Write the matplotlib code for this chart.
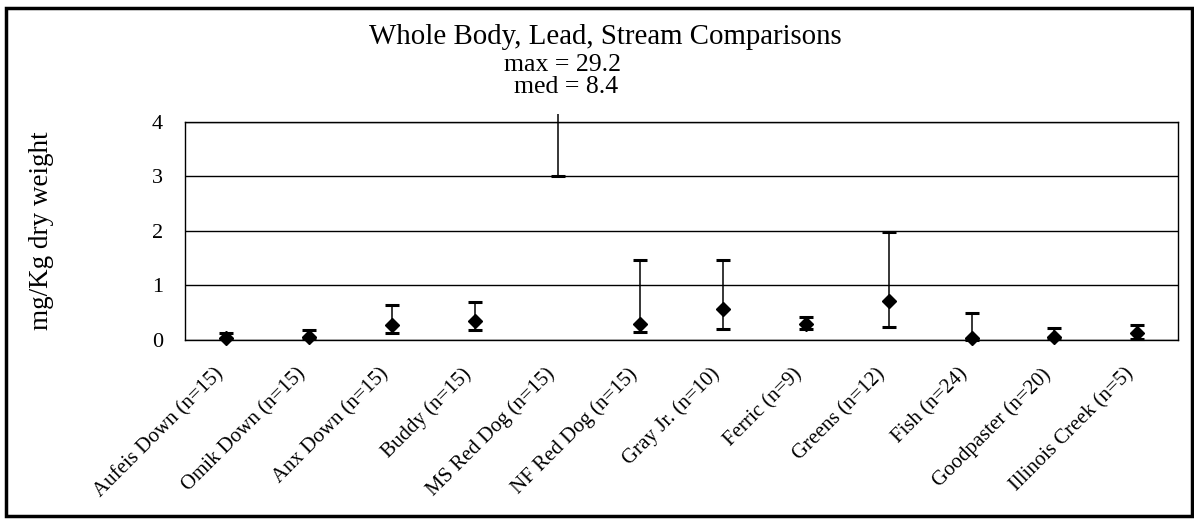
import numpy as np
import matplotlib
matplotlib.use("Agg")
import matplotlib.pyplot as plt
from matplotlib.patches import Rectangle
from matplotlib.transforms import Bbox, TransformedBbox, ScaledTranslation

plt.rcParams['font.family'] = ['Liberation Serif', 'DejaVu Serif']

# stream sites, median and min/max of whole body lead (mg/Kg dry weight)
sites = ["Aufeis Down (n=15)", "Omik Down (n=15)", "Anx Down (n=15)", "Buddy (n=15)",
         "MS Red Dog (n=15)", "NF Red Dog (n=15)", "Gray Jr. (n=10)", "Ferric (n=9)",
         "Greens (n=12)", "Fish (n=24)", "Goodpaster (n=20)", "Illinois Creek (n=5)"]
med = [0.04, 0.05, 0.28, 0.35, 8.4, 0.29, 0.56, 0.30, 0.71, 0.04, 0.05, 0.13]
low = [0.01, 0.02, 0.13, 0.18, 3.0, 0.15, 0.20, 0.20, 0.24, 0.0, 0.02, 0.02]
high = [0.13, 0.18, 0.64, 0.70, 29.2, 1.46, 1.47, 0.42, 1.98, 0.50, 0.22, 0.27]
yticks = [0, 1, 2, 3, 4]

med = np.array(med)
x = np.arange(len(sites))
yerr = [med - np.array(low), np.array(high) - med]

fig = plt.figure(figsize=(11.94, 5.19), dpi=100)
ax = fig.add_axes([0.155, 0.345, 0.832, 0.42])

eb = ax.errorbar(x, med, yerr=yerr, fmt='D', color='black', ms=7, elinewidth=1.1,
                 capsize=4.8, capthick=2.2, zorder=3)

# let the marks spill a little past the frame like the original
clip = TransformedBbox(Bbox([[0, -0.06], [1, 1.035]]), ax.transAxes)
for art in [eb[0]] + list(eb[1]) + list(eb[2]):
    art.set_clip_box(clip)

ax.set_xlim(-0.5, len(sites) - 0.5)
ax.set_ylim(0, 4)
ax.set_yticks(yticks)
ax.yaxis.grid(True, color='black', linewidth=1.0)
ax.set_axisbelow(True)
for s in ax.spines.values():
    s.set_color('black')
    s.set_linewidth(1.0)

ax.set_xticks(x)
ax.set_xticklabels(sites, rotation=45, ha='right', rotation_mode='anchor', fontsize=15)
ax.tick_params(axis='x', length=0, pad=22)
ax.tick_params(axis='y', length=0, pad=16, labelsize=16)
shift = ScaledTranslation(-0.13, 0.06, fig.dpi_scale_trans)
for lab in ax.get_xticklabels():
    lab.set_transform(lab.get_transform() + shift)

fig.text(0.507, 1 - 37 / 519, "Whole Body, Lead, Stream Comparisons", ha='center', va='center', fontsize=20.8)
ax.annotate("max = 29.2", xy=(4.06, 1 - 65 / 519), xycoords=('data', 'figure fraction'),
            ha='center', va='center', fontsize=18.5)
ax.annotate("med = 8.4", xy=(4.1, 1 - 87 / 519), xycoords=('data', 'figure fraction'),
            ha='center', va='center', fontsize=18.5)
fig.text(0.035, 1 - 231 / 519, "mg/Kg dry weight", rotation=90, ha='center', va='center', fontsize=19.5)

# outer frame around the whole chart
fig.patches.append(Rectangle((0.005, 0.006), 0.993, 0.978, transform=fig.transFigure,
                             fill=False, edgecolor='black', linewidth=2.5))

fig.savefig("out.png", dpi=100)
